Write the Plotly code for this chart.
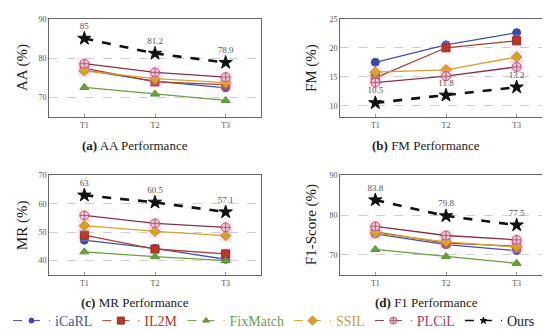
import plotly.graph_objects as go

W, H = 550, 329
tasks = ["T1", "T2", "T3"]
methods = ["iCaRL", "IL2M", "FixMatch", "SSIL", "PLCiL", "Ours"]

aa = {
    "iCaRL": [77.0, 74.2, 72.5],
    "IL2M": [77.5, 74.0, 73.3],
    "FixMatch": [72.6, 70.9, 69.3],
    "SSIL": [76.8, 74.8, 73.8],
    "PLCiL": [78.6, 76.4, 75.2],
    "Ours": [85.0, 81.2, 78.9],
}
fm = {
    "iCaRL": [17.5, 20.5, 22.6],
    "IL2M": [14.8, 20.0, 21.2],
    "FixMatch": [None, None, None],
    "SSIL": [15.8, 16.2, 18.4],
    "PLCiL": [14.0, 15.1, 16.7],
    "Ours": [10.5, 11.8, 13.2],
}
mr = {
    "iCaRL": [47.2, 44.3, 40.5],
    "IL2M": [49.0, 44.1, 42.4],
    "FixMatch": [43.1, 41.4, 40.0],
    "SSIL": [52.3, 50.3, 48.8],
    "PLCiL": [55.9, 53.1, 51.7],
    "Ours": [63.0, 60.5, 57.1],
}
f1 = {
    "iCaRL": [75.3, 72.6, 71.1],
    "IL2M": [75.8, 73.0, 72.2],
    "FixMatch": [71.4, 69.6, 67.9],
    "SSIL": [75.5, 73.3, 72.0],
    "PLCiL": [77.2, 74.9, 73.8],
    "Ours": [83.8, 79.8, 77.5],
}

panels = [
    ("AA (%)", aa, [65, 90], [70, 80, 90], "<b>(a)</b> AA Performance"),
    ("FM (%)", fm, [8, 25], [10, 15, 20, 25], "<b>(b)</b> FM Performance"),
    ("MR (%)", mr, [35, 70], [40, 50, 60, 70], "<b>(c)</b> MR Performance"),
    ("F1-Score (%)", f1, [65, 90], [70, 80, 90], "<b>(d)</b> F1 Performance"),
]

style = {
    "iCaRL": dict(line="#4250b4", fill="#3a48a8", edge="#3a48a8", sym="circle", size=8, lsize=5, text="#4a55a8"),
    "IL2M": dict(line="#a8402c", fill="#b8382a", edge="#8a3020", sym="square", size=8, lsize=7, text="#a83b2b"),
    "FixMatch": dict(line="#6c9f3e", fill="#6c9f3e", edge="#5f8f35", sym="triangle-up", size=8, lsize=6, text="#6b9e45"),
    "SSIL": dict(line="#d9a12a", fill="#d9a12a", edge="#c08a20", sym="diamond", size=8, lsize=7, text="#d09a3a"),
    "PLCiL": dict(line="#86304e", fill="#f0c4d6", edge="#b05a7a", sym="circle-cross", size=9, lsize=7, text="#a0406a"),
    "Ours": dict(line="#111111", fill="#111111", edge="#111111", sym="star", size=10, lsize=5, text="#222222"),
}
halo = {"IL2M", "SSIL", "PLCiL"}

PX = lambda v: v / W
PY = lambda v: 1 - v / H
xdom = [[PX(41), PX(253)], [PX(332), PX(544)], [PX(41), PX(253)], [PX(332), PX(544)]]
ydom = [[PY(109), PY(7)], [PY(109), PY(7)], [PY(272), PY(169)], [PY(272), PY(169)]]
ytitle_x = [PX(14), PX(303), PX(14), PX(303)]
cap_pos = [(PX(127), PY(138)), (PX(418), PY(138)), (PX(127), PY(301)), (PX(418), PY(301))]

FONT = "Liberation Serif, DejaVu Serif, serif"
fig = go.Figure()
layout = dict(width=W, height=H, margin=dict(l=0, r=0, t=0, b=0),
              paper_bgcolor="white", plot_bgcolor="white",
              font=dict(family=FONT, size=9, color="#444"))
annotations = []

for i, (ytitle, data, yr, yt, cap) in enumerate(panels):
    k = "" if i == 0 else str(i + 1)
    xa, ya = "x" + k, "y" + k
    for m in methods:
        s = style[m]
        vals = data[m]
        if m in halo:
            fig.add_trace(go.Scatter(
                x=tasks, y=vals, xaxis=xa, yaxis=ya, mode="markers",
                marker=dict(symbol="square", size=13, color="rgba(248,175,218,0.25)"),
                showlegend=False, hoverinfo="skip"))
        is_ours = m == "Ours"
        fig.add_trace(go.Scatter(
            x=tasks, y=vals, xaxis=xa, yaxis=ya,
            mode="lines+markers+text" if is_ours else "lines+markers",
            text=[f"{v:g}" for v in vals] if is_ours else None,
            textposition="top center",
            textfont=dict(size=9, color="#555555", family=FONT),
            line=dict(color=s["line"], width=2.6 if is_ours else 1.3,
                      dash="dash" if is_ours else "solid"),
            marker=dict(symbol=s["sym"], size=s["size"], color=s["fill"],
                        line=dict(color=s["edge"], width=1)),
            showlegend=False, hoverinfo="x+y"))

    layout["xaxis" + k] = dict(
        domain=xdom[i], anchor=ya, type="category", range=[-0.5, 2.5],
        showline=True, mirror=True, linecolor="#666", linewidth=1,
        ticks="inside", ticklen=3, tickcolor="#999",
        showgrid=False, zeroline=False,
        tickfont=dict(size=8, color="#555", family=FONT))
    layout["yaxis" + k] = dict(
        domain=ydom[i], anchor=xa, range=yr, tickvals=yt,
        showline=True, mirror=True, linecolor="#666", linewidth=1,
        showgrid=True, gridcolor="#cfcfcf", griddash="dash", gridwidth=1,
        zeroline=False, ticks="",
        tickfont=dict(size=8, color="#555", family=FONT))
    annotations.append(dict(text=ytitle, x=ytitle_x[i], y=(ydom[i][0] + ydom[i][1]) / 2,
                            xref="paper", yref="paper", textangle=-90, showarrow=False,
                            font=dict(size=15, color="#222", family=FONT),
                            xanchor="center", yanchor="middle"))
    cx, cy = cap_pos[i]
    annotations.append(dict(text=cap, x=cx, y=cy, xref="paper", yref="paper",
                            showarrow=False, font=dict(size=13, color="#222", family=FONT),
                            xanchor="center", yanchor="middle"))

# legend-only entries (small markers like the reference legend)
for m in methods:
    s = style[m]
    is_ours = m == "Ours"
    fig.add_trace(go.Scatter(
        x=[None], y=[None], mode="lines+markers",
        line=dict(color=s["line"], width=1.5 if is_ours else 1.0, dash="dash"),
        marker=dict(symbol=s["sym"], size=s["lsize"], color=s["fill"],
                    line=dict(color=s["edge"], width=1)),
        name=f'<span style="color:{s["text"]}">{m}</span>', showlegend=True))

layout["annotations"] = annotations
layout["legend"] = dict(orientation="h", x=0.0, xanchor="left", y=PY(320), yanchor="middle",
                        font=dict(size=14, family=FONT), bgcolor="rgba(0,0,0,0)",
                        itemwidth=37, itemsizing="trace")
fig.update_layout(**layout)
fig.write_html("out.html")
